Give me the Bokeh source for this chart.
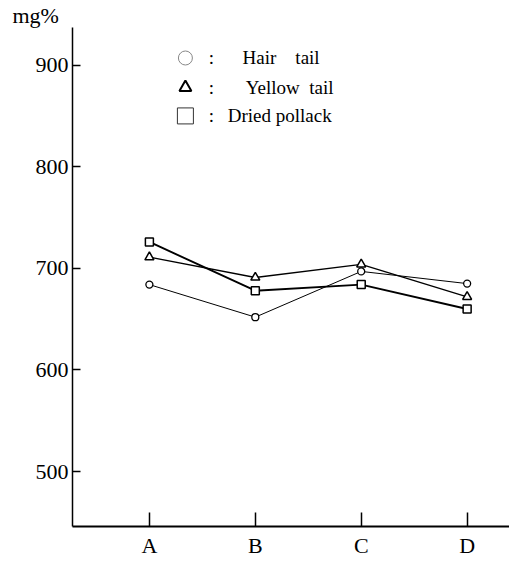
from bokeh.plotting import figure
from bokeh.models import Range1d, FixedTicker, Label, Title
from bokeh.embed import file_html
from bokeh.resources import INLINE

categories = ["A", "B", "C", "D"]
hair_tail = [684, 652, 697, 685]
yellow_tail = [711, 691, 704, 672]
dried_pollack = [726, 678, 684, 660]
y_ticks = [500, 600, 700, 800, 900]
NB = "\u00a0"
series_names = ["Hair" + NB * 4 + "tail", "Yellow" + NB * 2 + "tail", "Dried pollack"]

FONT = "Liberation Serif"
xs = list(range(len(categories)))

W, H = 509, 560
p = figure(width=W, height=H, output_backend="svg", toolbar_location=None,
           x_range=Range1d(-0.726, 3.4), y_range=Range1d(446, 937),
           min_border_left=72, min_border_right=0, min_border_top=12,
           min_border_bottom=H - 527)
p.outline_line_color = None
p.xgrid.visible = False
p.ygrid.visible = False
p.background_fill_color = "white"

# unit label as a left-aligned title
p.add_layout(Title(text="mg%", align="left", offset=-60, standoff=0,
                   text_font=FONT, text_font_size="22px", text_font_style="normal",
                   text_color="black"), "above")

# axes
p.yaxis.ticker = FixedTicker(ticks=y_ticks)
p.yaxis.minor_tick_line_color = None
p.yaxis.major_tick_in = 8
p.yaxis.major_tick_out = 0
p.yaxis.major_tick_line_width = 1.5
p.yaxis.axis_line_width = 1.5
p.yaxis.major_label_standoff = 4
p.yaxis.major_label_text_font = FONT
p.yaxis.major_label_text_font_size = "22px"
p.yaxis.major_label_text_color = "black"

p.xaxis.ticker = FixedTicker(ticks=xs)
p.xaxis.major_label_overrides = {i: c for i, c in enumerate(categories)}
p.xaxis.minor_tick_line_color = None
p.xaxis.major_tick_in = 14
p.xaxis.major_tick_out = 0
p.xaxis.major_tick_line_width = 1.5
p.xaxis.axis_line_width = 2
p.xaxis.major_label_standoff = 6
p.xaxis.major_label_text_font = FONT
p.xaxis.major_label_text_font_size = "22px"
p.xaxis.major_label_text_color = "black"

# series
p.line(xs, hair_tail, line_color="black", line_width=1)
p.line(xs, yellow_tail, line_color="black", line_width=1.3)
p.line(xs, dried_pollack, line_color="black", line_width=1.9)
p.scatter(xs, hair_tail, marker="circle", size=7, fill_color="white", line_color="black", line_width=1.3)
p.scatter(xs, yellow_tail, marker="triangle", size=9, fill_color="white", line_color="black", line_width=1.5)
p.scatter(xs, dried_pollack, marker="square", size=8, fill_color="white", line_color="black", line_width=1.5)

# legend (layout in data units)
leg_marker_x = 0.34
leg_colon_x = 0.56
leg_text_x = [0.88, 0.91, 0.74]
leg_y = [907, 878, 850]
p.scatter([leg_marker_x], [leg_y[0]], marker="circle", size=14, fill_color=None,
          line_color="#888888", line_width=1)
p.scatter([leg_marker_x], [leg_y[1]], marker="triangle", size=12, fill_color=None,
          line_color="black", line_width=2)
p.scatter([leg_marker_x], [leg_y[2]], marker="square", size=16, fill_color=None,
          line_color="#333333", line_width=1)
for i in range(3):
    p.add_layout(Label(x=leg_colon_x, y=leg_y[i], text=":", text_font=FONT,
                       text_font_size="19px", text_color="black",
                       text_baseline="middle", text_align="left"))
    p.add_layout(Label(x=leg_text_x[i], y=leg_y[i], text=series_names[i], text_font=FONT,
                       text_font_size="19px", text_color="black",
                       text_baseline="middle", text_align="left"))

open("out.html", "w").write(file_html(p, INLINE))
